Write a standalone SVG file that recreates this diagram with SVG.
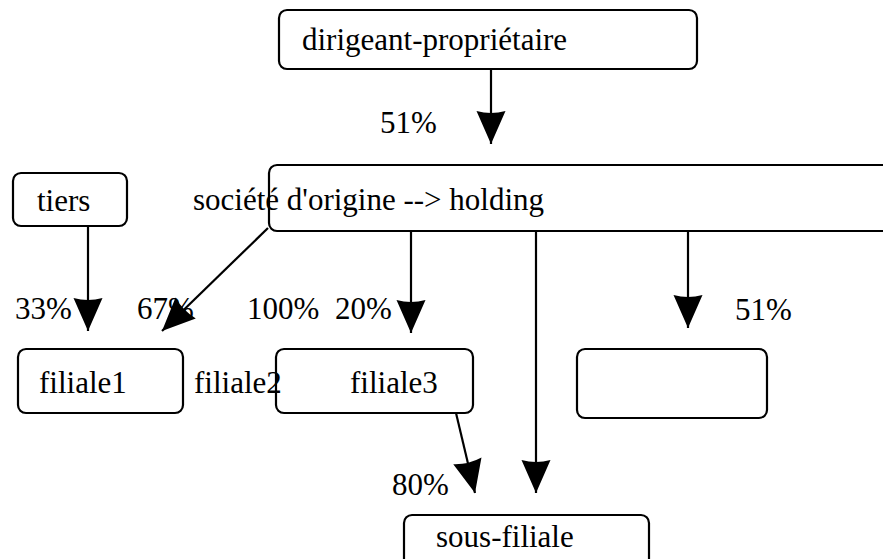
<svg xmlns="http://www.w3.org/2000/svg" width="883" height="559" viewBox="0 0 883 559">
<style>
.box{fill:none;stroke:#000;stroke-width:2.2}
.t{font-family:"Liberation Serif","DejaVu Serif","Times New Roman",serif;font-size:31px;fill:#000}
.c{stroke:#000;stroke-width:2.2;fill:none}
</style>
<defs>
<marker id="ah" markerUnits="userSpaceOnUse" markerWidth="40" markerHeight="40" viewBox="-36 -20 40 40" refX="0" refY="0" orient="auto">
<path d="M0,0 L-33,-14.5 Q-29,0 -33,14.5 Z" fill="#000"/>
</marker>
</defs>
<rect width="883" height="559" fill="#fff"/>
<g id="dirigeant"><rect class="box" x="279" y="10" width="418" height="59" rx="8"/><text class="t" x="302" y="50">dirigeant-propriétaire</text></g>
<g id="holding"><rect class="box" x="269" y="165" width="640" height="66" rx="8"/><text class="t" x="193" y="210">société d'origine --&gt; holding</text></g>
<g id="tiers"><rect class="box" x="13" y="173" width="114" height="53" rx="8"/><text class="t" x="37" y="211">tiers</text></g>
<g id="filiale1"><rect class="box" x="18" y="349" width="165" height="64" rx="8"/><text class="t" x="39" y="393">filiale1</text></g>
<g id="filiale2"><text class="t" x="194" y="393">filiale2</text></g>
<g id="filiale3"><rect class="box" x="276" y="349" width="197" height="64" rx="8"/><text class="t" x="350" y="393">filiale3</text></g>
<g id="empty"><rect class="box" x="577" y="349" width="190" height="69" rx="8"/></g>
<g id="sousfiliale"><rect class="box" x="404" y="515" width="245" height="60" rx="8"/><text class="t" x="436" y="547">sous-filiale</text></g>
<g id="labels">
<text class="t" x="380" y="133">51%</text>
<text class="t" x="15" y="319">33%</text>
<text class="t" x="137" y="319">67%</text>
<text class="t" x="247" y="319">100%</text>
<text class="t" x="335" y="319">20%</text>
<text class="t" x="735" y="320">51%</text>
<text class="t" x="392" y="495">80%</text>
</g>
<g id="connectors">
<line class="c" x1="491" y1="69" x2="491" y2="144" marker-end="url(#ah)"/>
<line class="c" x1="88" y1="226" x2="88" y2="331" marker-end="url(#ah)"/>
<line class="c" x1="268" y1="228" x2="162" y2="331" marker-end="url(#ah)"/>
<line class="c" x1="411" y1="231" x2="411" y2="333" marker-end="url(#ah)"/>
<line class="c" x1="536" y1="231" x2="536" y2="493" marker-end="url(#ah)"/>
<line class="c" x1="688" y1="231" x2="688" y2="328" marker-end="url(#ah)"/>
<line class="c" x1="456" y1="413" x2="475" y2="493" marker-end="url(#ah)"/>
</g>
</svg>
